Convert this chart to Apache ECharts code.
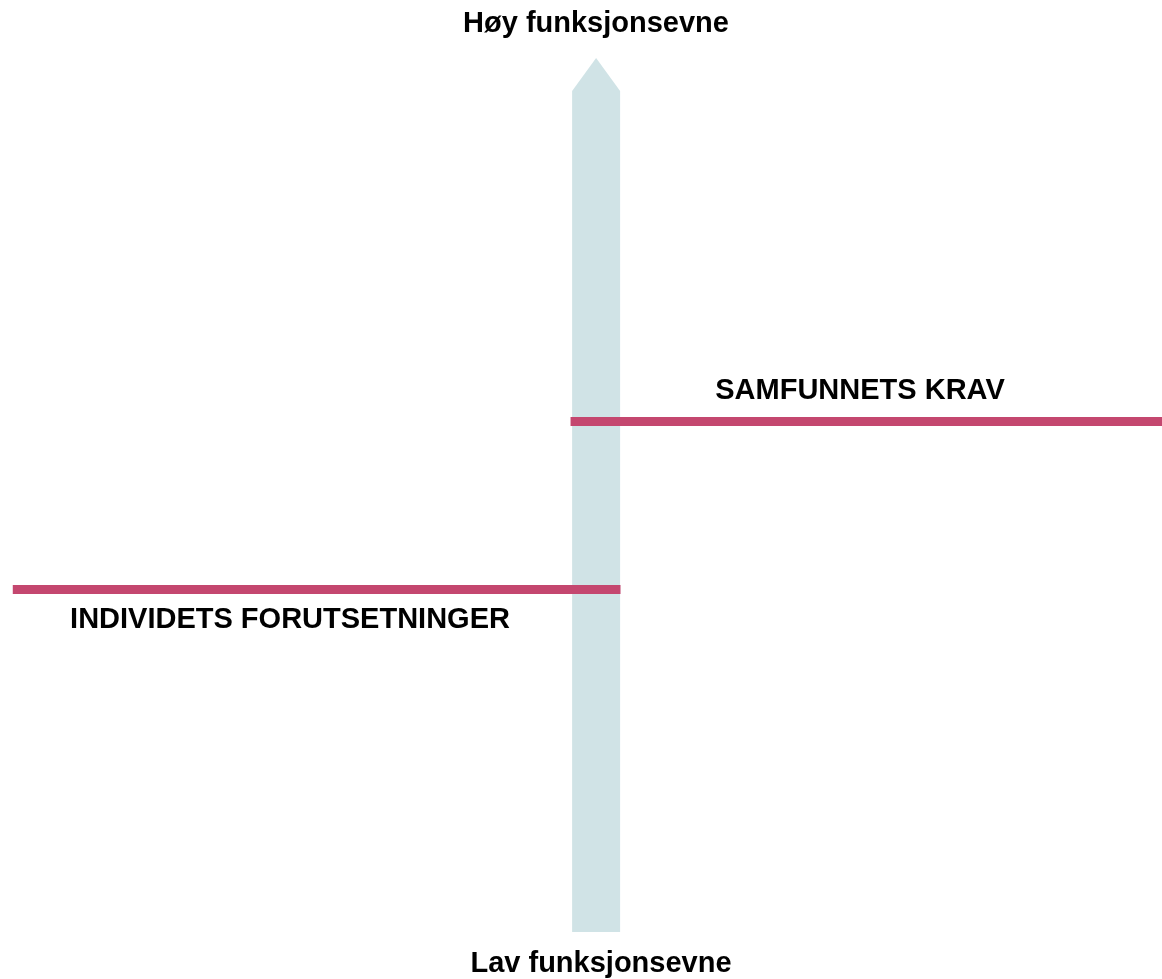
<!DOCTYPE html>
<html><head><meta charset="utf-8">
<script src="https://cdn.jsdelivr.net/npm/echarts@6/dist/echarts.min.js"></script>
<style>html,body{margin:0;padding:0;background:#fff}#c{width:1162px;height:979px}</style>
</head><body><div id="c"></div>
<script>
// Scale labels of the vertical axis (top, bottom)
const scaleLabels = ['Høy funksjonsevne', 'Lav funksjonsevne'];
// Horizontal level lines
const lineNames  = ['SAMFUNNETS KRAV', 'INDIVIDETS FORUTSETNINGER'];
const lineLevels = [58.4, 39.2];   // level on the 0-100 functioning scale
const lineStarts = [49.1, 1.1];    // horizontal extent (0-100)
const lineEnds   = [100, 53.4];
// Vertical arrow: [x, from level, to level]
const arrowData = [[51.3, 0, 100]];

const chart = echarts.init(document.getElementById('c'), null, {renderer: 'canvas'});
const FONT = 'bold 29px "Liberation Sans", Arial, sans-serif';
const MAGENTA = '#C4476F';
const ARROW = '#D0E3E6';

const lineSeries = lineNames.map((n, i) => ({
  type: 'line', name: n, silent: true, z: 3,
  symbol: 'none',
  lineStyle: {color: MAGENTA, width: 9, cap: 'butt'},
  data: [[lineStarts[i], lineLevels[i]], [lineEnds[i], lineLevels[i]]]
}));

chart.setOption({
  animation: false,
  grid: {left: 0, right: 0, top: 58, bottom: 47},
  xAxis: {type: 'value', min: 0, max: 100, show: false},
  yAxis: {type: 'value', min: 0, max: 100, show: false},
  series: [
    {
      type: 'custom', silent: true, z: 2,
      data: arrowData,
      renderItem(params, api) {
        const b = api.coord([api.value(0), api.value(1)]);
        const t = api.coord([api.value(0), api.value(2)]);
        const hw = 24, head = 33;
        return {
          type: 'polygon',
          shape: {points: [
            [b[0] - hw, b[1]], [b[0] - hw, t[1] + head], [t[0], t[1]],
            [b[0] + hw, t[1] + head], [b[0] + hw, b[1]]
          ]},
          style: {fill: ARROW}
        };
      }
    },
    ...lineSeries
  ],
  graphic: [
    {type: 'text', x: 596, y: 24, style: {text: scaleLabels[0], font: FONT, fill: '#000', textAlign: 'center', textVerticalAlign: 'middle'}},
    {type: 'text', x: 601, y: 964, style: {text: scaleLabels[1], font: FONT, fill: '#000', textAlign: 'center', textVerticalAlign: 'middle'}},
    {type: 'text', x: 860, y: 391, style: {text: lineNames[0], font: FONT, fill: '#000', textAlign: 'center', textVerticalAlign: 'middle'}},
    {type: 'text', x: 290, y: 620, style: {text: lineNames[1], font: FONT, fill: '#000', textAlign: 'center', textVerticalAlign: 'middle'}}
  ]
});
</script>
</body></html>
